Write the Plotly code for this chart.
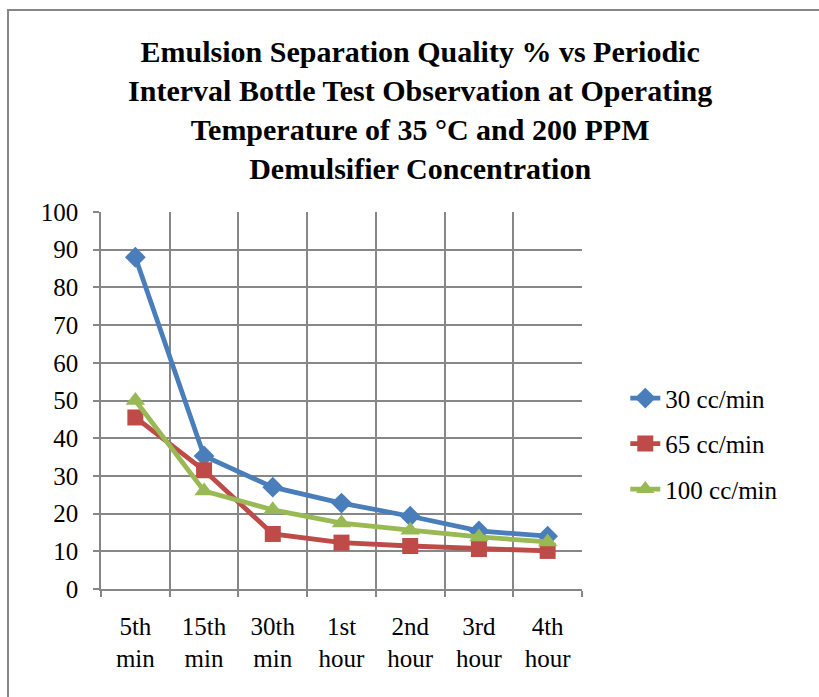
import plotly.graph_objects as go

categories = ["5th<br>min", "15th<br>min", "30th<br>min", "1st<br>hour", "2nd<br>hour", "3rd<br>hour", "4th<br>hour"]
s30 = [88, 35.3, 27, 22.8, 19.3, 15.4, 14]
s65 = [45.5, 31.5, 14.6, 12.3, 11.4, 10.6, 10.1]
s100 = [50, 26, 21, 17.5, 15.6, 13.8, 12.5]
names = ["30 cc/min", "65 cc/min", "100 cc/min"]
colors = ["#4A7EBB", "#BE4B48", "#98B954"]
symbols = ["diamond", "square", "triangle-up"]
msizes = [16, 16, 17]

fig = go.Figure()
for i, (vals, nm, c, sym, ms) in enumerate(zip([s30, s65, s100], names, colors, symbols, msizes)):
    fig.add_trace(go.Scatter(x=categories, y=vals, name=nm, mode="lines+markers",
                             legendgroup=f"g{i}",
                             line=dict(color=c, width=4.8),
                             marker=dict(symbol=sym, size=ms, color=c)))

font = "Liberation Serif"
fig.update_layout(
    width=819, height=697,
    margin=dict(l=101, r=237, t=212, b=108),
    paper_bgcolor="white", plot_bgcolor="white",
    font=dict(family=font, size=25, color="black"),
    title=dict(text="<b>Emulsion Separation Quality % vs Periodic<br>Interval Bottle Test Observation at Operating<br>Temperature of 35 °C and 200 PPM<br>Demulsifier Concentration</b>",
               x=0.513, xref="container", xanchor="center",
               y=1 - 62 / 697, yref="container", yanchor="top",
               font=dict(family=font, size=30, color="black")),
    legend=dict(x=1.09, y=0.385, xanchor="left", yanchor="middle",
                font=dict(family=font, size=25), tracegroupgap=10,
                bgcolor="rgba(0,0,0,0)"),
    showlegend=True,
)
fig.update_xaxes(type="category", tickson="boundaries", showgrid=True, gridcolor="#878787", gridwidth=1.5,
                 showline=True, linecolor="#878787", linewidth=1.5,
                 ticks="outside", ticklen=6, tickcolor="#878787", tickwidth=1.5,
                 ticklabelstandoff=14,
                 tickfont=dict(family=font, size=25), range=[-0.5, 6.5])
fig.update_yaxes(range=[0, 100], dtick=10, showgrid=True, gridcolor="#878787", gridwidth=1.5,
                 showline=True, linecolor="#878787", linewidth=1.5,
                 ticks="outside", ticklen=6, tickcolor="#878787", tickwidth=1.5,
                 ticklabelstandoff=10,
                 tickfont=dict(family=font, size=25), zeroline=False)
fig.add_shape(type="rect", xref="paper", yref="paper",
              x0=(8 - 101) / 481, x1=(840 - 101) / 481,
              y0=(589 - 720) / 377, y1=(589 - 10) / 377,
              line=dict(color="#878787", width=2), layer="below")
fig.write_html("out.html")
